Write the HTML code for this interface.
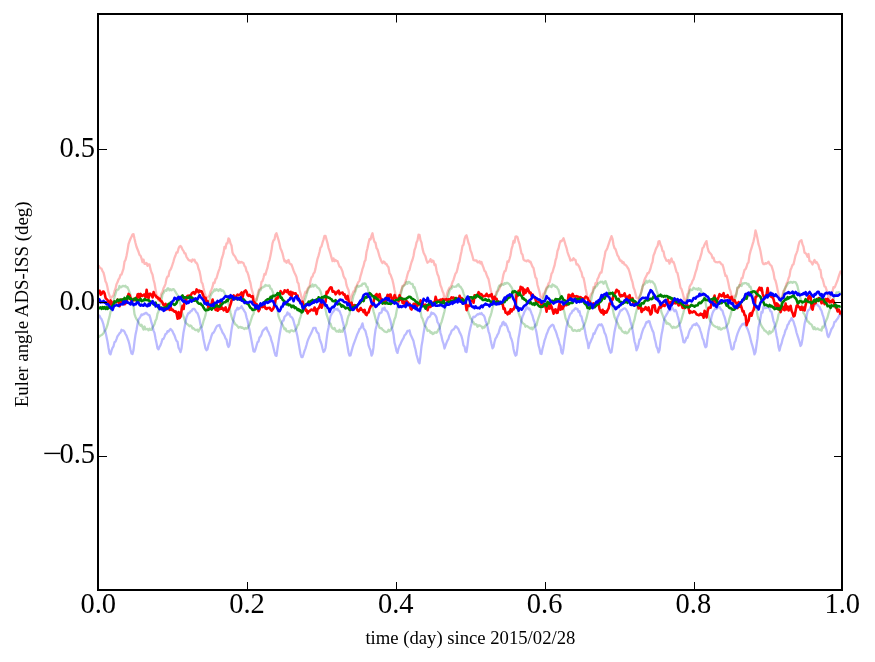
<!DOCTYPE html>
<html><head><meta charset="utf-8"><style>
html,body{margin:0;padding:0;background:#fff;}
svg{display:block;will-change:transform;}
</style></head><body>
<svg width="875" height="662" viewBox="0 0 875 662">
<rect width="875" height="662" fill="#fff"/>
<g fill="none" stroke-width="2.6" stroke-linejoin="round" stroke-linecap="butt">
<polyline points="98.5,265.4 99.5,267.3 100.5,268.2 101.5,268.6 102.5,271.2 103.5,272.6 104.5,276.6 105.5,281.4 106.5,283.2 107.5,287.5 108.5,292.7 109.5,295.5 110.5,298.4 111.5,297.6 112.5,296.3 113.5,295.2 114.5,291.2 115.5,288.7 116.5,284.2 117.5,282.3 118.5,279.5 119.5,278.1 120.5,274.9 121.5,274.7 122.5,271.6 123.5,268.7 124.5,261.6 125.5,260.0 126.5,255.9 127.5,250.6 128.5,244.2 129.5,241.3 130.5,238.8 131.5,236.7 132.5,234.6 133.5,234.1 134.5,238.8 135.5,243.0 136.5,246.7 137.5,249.2 138.5,251.7 139.5,254.9 140.5,255.6 141.5,258.4 142.5,262.2 143.5,259.6 144.5,263.8 145.5,263.8 146.5,262.9 147.5,265.8 148.5,264.5 149.5,264.4 150.5,269.2 151.5,272.5 152.5,274.5 153.5,279.7 154.5,283.2 155.5,289.1 156.5,294.9 157.5,296.2 158.5,300.6 159.5,298.6 160.5,297.1 161.5,293.4 162.5,291.8 163.5,288.2 164.5,286.4 165.5,283.8 166.5,278.8 167.5,276.6 168.5,276.2 169.5,271.1 170.5,269.7 171.5,267.5 172.5,264.5 173.5,261.3 174.5,257.8 175.5,255.5 176.5,252.4 177.5,252.5 178.5,248.5 179.5,246.5 180.5,246.0 181.5,247.3 182.5,249.6 183.5,250.9 184.5,253.3 185.5,253.5 186.5,256.9 187.5,258.3 188.5,259.9 189.5,260.5 190.5,260.3 191.5,261.7 192.5,259.5 193.5,260.3 194.5,259.6 195.5,262.5 196.5,262.7 197.5,264.6 198.5,268.7 199.5,271.1 200.5,275.9 201.5,282.3 202.5,283.4 203.5,288.1 204.5,292.3 205.5,295.4 206.5,298.1 207.5,297.4 208.5,296.5 209.5,295.3 210.5,291.6 211.5,289.7 212.5,286.9 213.5,282.6 214.5,283.1 215.5,279.1 216.5,278.3 217.5,274.7 218.5,271.4 219.5,268.8 220.5,265.2 221.5,259.3 222.5,256.5 223.5,253.1 224.5,246.8 225.5,248.4 226.5,243.3 227.5,243.4 228.5,238.3 229.5,239.4 230.5,243.5 231.5,245.5 232.5,252.6 233.5,254.8 234.5,255.8 235.5,257.3 236.5,259.9 237.5,260.6 238.5,263.1 239.5,261.8 240.5,262.5 241.5,261.9 242.5,262.6 243.5,263.0 244.5,266.0 245.5,267.1 246.5,271.1 247.5,272.5 248.5,275.7 249.5,279.8 250.5,283.1 251.5,288.9 252.5,292.0 253.5,295.8 254.5,300.0 255.5,299.4 256.5,300.0 257.5,295.2 258.5,291.1 259.5,288.9 260.5,288.5 261.5,281.9 262.5,281.1 263.5,277.8 264.5,273.8 265.5,274.5 266.5,270.7 267.5,267.9 268.5,262.6 269.5,260.1 270.5,255.4 271.5,250.3 272.5,243.3 273.5,240.3 274.5,239.5 275.5,234.6 276.5,233.2 277.5,236.6 278.5,239.9 279.5,243.8 280.5,248.4 281.5,250.5 282.5,253.3 283.5,257.6 284.5,261.3 285.5,260.7 286.5,262.8 287.5,261.1 288.5,259.9 289.5,263.4 290.5,264.1 291.5,264.6 292.5,267.3 293.5,270.4 294.5,272.8 295.5,274.8 296.5,277.1 297.5,282.3 298.5,283.4 299.5,290.2 300.5,293.4 301.5,297.2 302.5,301.2 303.5,298.6 304.5,294.3 305.5,291.7 306.5,292.5 307.5,289.1 308.5,287.3 309.5,286.8 310.5,280.9 311.5,277.4 312.5,276.6 313.5,273.5 314.5,272.5 315.5,268.6 316.5,263.4 317.5,258.8 318.5,255.9 319.5,252.0 320.5,247.5 321.5,246.4 322.5,242.7 323.5,239.6 324.5,235.8 325.5,235.8 326.5,239.5 327.5,243.1 328.5,247.8 329.5,250.7 330.5,253.9 331.5,257.6 332.5,261.1 333.5,258.4 334.5,261.2 335.5,260.0 336.5,260.9 337.5,261.2 338.5,263.9 339.5,266.6 340.5,267.1 341.5,269.1 342.5,271.5 343.5,276.0 344.5,278.0 345.5,279.4 346.5,285.1 347.5,288.0 348.5,290.0 349.5,296.9 350.5,300.7 351.5,297.3 352.5,293.9 353.5,291.4 354.5,291.4 355.5,287.4 356.5,286.3 357.5,283.7 358.5,281.9 359.5,280.6 360.5,276.1 361.5,272.9 362.5,268.8 363.5,266.2 364.5,261.7 365.5,260.1 366.5,252.0 367.5,248.2 368.5,243.3 369.5,239.1 370.5,239.6 371.5,235.8 372.5,233.3 373.5,238.6 374.5,242.0 375.5,242.7 376.5,248.0 377.5,249.4 378.5,252.8 379.5,256.4 380.5,259.0 381.5,261.7 382.5,263.1 383.5,261.5 384.5,262.0 385.5,264.0 386.5,263.9 387.5,266.0 388.5,267.3 389.5,273.3 390.5,274.6 391.5,277.3 392.5,280.2 393.5,284.6 394.5,289.9 395.5,294.1 396.5,296.6 397.5,299.7 398.5,299.4 399.5,295.0 400.5,292.8 401.5,289.7 402.5,285.9 403.5,285.8 404.5,284.0 405.5,281.7 406.5,278.6 407.5,274.5 408.5,271.4 409.5,270.1 410.5,265.8 411.5,262.3 412.5,259.8 413.5,256.0 414.5,250.0 415.5,247.4 416.5,242.5 417.5,240.4 418.5,234.7 419.5,234.8 420.5,240.1 421.5,242.7 422.5,248.6 423.5,252.4 424.5,254.6 425.5,256.6 426.5,260.4 427.5,262.7 428.5,261.6 429.5,261.4 430.5,259.1 431.5,262.0 432.5,260.5 433.5,261.0 434.5,265.1 435.5,264.4 436.5,270.3 437.5,274.2 438.5,276.3 439.5,280.8 440.5,285.4 441.5,287.8 442.5,291.2 443.5,293.3 444.5,299.5 445.5,298.7 446.5,296.0 447.5,292.1 448.5,289.8 449.5,287.7 450.5,287.4 451.5,285.2 452.5,282.1 453.5,279.9 454.5,276.7 455.5,273.5 456.5,272.5 457.5,268.9 458.5,264.0 459.5,261.6 460.5,255.9 461.5,251.4 462.5,245.9 463.5,244.9 464.5,239.2 465.5,236.3 466.5,235.3 467.5,239.0 468.5,243.0 469.5,245.3 470.5,250.4 471.5,252.8 472.5,256.3 473.5,260.2 474.5,260.3 475.5,260.5 476.5,260.4 477.5,262.3 478.5,262.4 479.5,261.1 480.5,263.5 481.5,262.0 482.5,265.3 483.5,267.6 484.5,270.9 485.5,271.7 486.5,274.5 487.5,277.1 488.5,279.0 489.5,283.9 490.5,289.1 491.5,293.0 492.5,298.9 493.5,298.8 494.5,297.5 495.5,295.9 496.5,291.7 497.5,291.3 498.5,290.2 499.5,288.5 500.5,285.4 501.5,284.0 502.5,279.5 503.5,274.3 504.5,271.4 505.5,270.9 506.5,267.4 507.5,261.3 508.5,261.9 509.5,259.0 510.5,255.3 511.5,249.1 512.5,245.8 513.5,240.9 514.5,242.5 515.5,236.6 516.5,236.4 517.5,237.2 518.5,241.1 519.5,244.1 520.5,248.7 521.5,253.4 522.5,254.5 523.5,259.5 524.5,260.6 525.5,260.6 526.5,261.3 527.5,260.4 528.5,260.4 529.5,262.0 530.5,261.6 531.5,264.3 532.5,266.8 533.5,268.0 534.5,272.9 535.5,277.4 536.5,278.5 537.5,285.0 538.5,288.4 539.5,291.8 540.5,296.7 541.5,297.0 542.5,297.8 543.5,293.7 544.5,293.4 545.5,290.3 546.5,287.6 547.5,286.6 548.5,283.4 549.5,282.5 550.5,278.4 551.5,273.7 552.5,272.3 553.5,268.7 554.5,265.7 555.5,260.4 556.5,257.3 557.5,251.0 558.5,248.5 559.5,243.9 560.5,241.0 561.5,241.3 562.5,240.0 563.5,238.2 564.5,241.3 565.5,244.9 566.5,247.8 567.5,252.1 568.5,255.0 569.5,257.4 570.5,260.6 571.5,259.8 572.5,260.2 573.5,258.3 574.5,259.6 575.5,259.9 576.5,264.5 577.5,264.2 578.5,265.6 579.5,267.4 580.5,270.5 581.5,272.3 582.5,276.9 583.5,277.8 584.5,282.4 585.5,288.3 586.5,292.7 587.5,298.6 588.5,301.7 589.5,298.8 590.5,295.4 591.5,293.6 592.5,292.5 593.5,287.2 594.5,287.9 595.5,283.2 596.5,283.8 597.5,279.0 598.5,277.4 599.5,274.4 600.5,272.4 601.5,272.5 602.5,267.1 603.5,261.5 604.5,257.0 605.5,251.3 606.5,249.9 607.5,247.7 608.5,244.7 609.5,241.7 610.5,238.8 611.5,236.1 612.5,238.8 613.5,244.7 614.5,248.2 615.5,249.1 616.5,252.2 617.5,255.3 618.5,256.7 619.5,259.3 620.5,261.0 621.5,260.6 622.5,263.0 623.5,262.1 624.5,264.5 625.5,264.9 626.5,265.8 627.5,267.5 628.5,269.0 629.5,272.0 630.5,275.6 631.5,279.5 632.5,282.2 633.5,287.5 634.5,289.9 635.5,293.7 636.5,297.6 637.5,298.1 638.5,298.6 639.5,296.7 640.5,294.6 641.5,291.1 642.5,287.6 643.5,283.2 644.5,279.8 645.5,277.6 646.5,275.8 647.5,273.1 648.5,273.3 649.5,271.2 650.5,268.5 651.5,264.4 652.5,262.1 653.5,255.4 654.5,253.3 655.5,250.0 656.5,247.7 657.5,246.2 658.5,241.6 659.5,241.1 660.5,244.7 661.5,246.8 662.5,251.1 663.5,251.3 664.5,256.5 665.5,258.5 666.5,260.7 667.5,261.0 668.5,260.0 669.5,263.7 670.5,260.5 671.5,258.5 672.5,262.1 673.5,261.9 674.5,264.7 675.5,268.4 676.5,271.9 677.5,273.0 678.5,277.8 679.5,282.6 680.5,287.7 681.5,289.0 682.5,292.3 683.5,296.2 684.5,300.8 685.5,301.2 686.5,298.7 687.5,294.1 688.5,292.8 689.5,287.1 690.5,284.9 691.5,283.8 692.5,280.8 693.5,279.3 694.5,276.2 695.5,272.3 696.5,269.7 697.5,265.2 698.5,260.9 699.5,260.3 700.5,256.6 701.5,253.4 702.5,248.1 703.5,247.3 704.5,244.8 705.5,242.8 706.5,241.1 707.5,247.3 708.5,251.0 709.5,252.5 710.5,253.6 711.5,254.7 712.5,258.0 713.5,257.6 714.5,261.1 715.5,262.0 716.5,262.1 717.5,262.3 718.5,262.1 719.5,261.9 720.5,262.9 721.5,264.4 722.5,264.6 723.5,267.9 724.5,272.1 725.5,275.9 726.5,275.7 727.5,279.3 728.5,283.8 729.5,288.8 730.5,291.1 731.5,296.0 732.5,297.1 733.5,298.1 734.5,295.8 735.5,296.2 736.5,293.1 737.5,287.8 738.5,287.8 739.5,285.7 740.5,283.0 741.5,278.4 742.5,277.9 743.5,273.7 744.5,270.0 745.5,269.2 746.5,267.0 747.5,263.5 748.5,262.4 749.5,255.3 750.5,251.2 751.5,248.2 752.5,244.6 753.5,241.3 754.5,236.8 755.5,230.4 756.5,234.1 757.5,238.8 758.5,244.1 759.5,247.0 760.5,251.2 761.5,257.0 762.5,262.4 763.5,264.2 764.5,264.2 765.5,263.1 766.5,263.6 767.5,262.9 768.5,261.6 769.5,263.9 770.5,265.1 771.5,265.9 772.5,269.2 773.5,272.3 774.5,278.7 775.5,280.6 776.5,284.5 777.5,289.4 778.5,294.1 779.5,298.5 780.5,301.1 781.5,297.7 782.5,295.4 783.5,290.8 784.5,290.5 785.5,287.3 786.5,283.7 787.5,282.0 788.5,278.5 789.5,276.1 790.5,269.9 791.5,267.7 792.5,265.0 793.5,264.3 794.5,260.0 795.5,255.5 796.5,253.1 797.5,250.3 798.5,245.3 799.5,241.8 800.5,240.8 801.5,240.2 802.5,244.4 803.5,246.7 804.5,252.6 805.5,253.1 806.5,254.4 807.5,256.7 808.5,254.0 809.5,261.2 810.5,261.3 811.5,262.6 812.5,264.5 813.5,261.9 814.5,260.0 815.5,262.7 816.5,261.9 817.5,263.6 818.5,265.2 819.5,269.2 820.5,269.9 821.5,277.3 822.5,278.9 823.5,282.4 824.5,286.5 825.5,286.8 826.5,289.9 827.5,293.3 828.5,297.5 829.5,298.6 830.5,295.8 831.5,292.0 832.5,291.6 833.5,287.1 834.5,287.6 835.5,285.4 836.5,282.9 837.5,280.5 838.5,277.2 839.5,274.1 840.5,271.4 841.5,271.6" stroke="#ff0000" stroke-opacity="0.27" stroke-width="2.3"/>
<polyline points="98.5,337.5 99.5,336.3 100.5,335.5 101.5,335.2 102.5,334.4 103.5,333.1 104.5,331.3 105.5,330.1 106.5,327.7 107.5,324.9 108.5,320.4 109.5,316.9 110.5,311.9 111.5,309.8 112.5,304.7 113.5,301.7 114.5,297.1 115.5,293.8 116.5,290.5 117.5,289.6 118.5,289.5 119.5,286.0 120.5,287.3 121.5,287.1 122.5,285.9 123.5,286.0 124.5,286.4 125.5,285.8 126.5,287.4 127.5,287.2 128.5,289.6 129.5,292.1 130.5,294.9 131.5,299.0 132.5,303.0 133.5,306.2 134.5,314.1 135.5,316.9 136.5,319.1 137.5,320.5 138.5,322.3 139.5,324.3 140.5,325.7 141.5,324.8 142.5,327.3 143.5,329.6 144.5,326.5 145.5,329.3 146.5,329.2 147.5,329.0 148.5,330.4 149.5,328.6 150.5,329.9 151.5,329.9 152.5,327.4 153.5,326.0 154.5,324.2 155.5,320.6 156.5,319.0 157.5,313.8 158.5,311.5 159.5,306.1 160.5,303.8 161.5,299.7 162.5,294.4 163.5,293.1 164.5,290.9 165.5,290.2 166.5,290.7 167.5,288.5 168.5,288.5 169.5,290.4 170.5,289.3 171.5,290.3 172.5,289.4 173.5,289.1 174.5,290.3 175.5,291.9 176.5,293.7 177.5,295.2 178.5,297.6 179.5,301.0 180.5,304.3 181.5,310.6 182.5,314.2 183.5,316.5 184.5,319.4 185.5,322.4 186.5,323.6 187.5,324.3 188.5,325.2 189.5,326.3 190.5,325.4 191.5,326.1 192.5,328.5 193.5,328.2 194.5,329.3 195.5,330.2 196.5,330.0 197.5,329.7 198.5,331.6 199.5,329.6 200.5,327.6 201.5,327.2 202.5,325.0 203.5,320.9 204.5,318.5 205.5,315.2 206.5,310.1 207.5,307.8 208.5,304.0 209.5,300.4 210.5,296.1 211.5,293.8 212.5,292.4 213.5,291.5 214.5,289.4 215.5,290.6 216.5,289.2 217.5,289.9 218.5,291.0 219.5,289.3 220.5,289.1 221.5,290.9 222.5,290.3 223.5,290.9 224.5,293.0 225.5,295.9 226.5,295.6 227.5,300.0 228.5,303.4 229.5,307.5 230.5,312.7 231.5,316.4 232.5,319.6 233.5,320.9 234.5,323.0 235.5,324.5 236.5,325.0 237.5,326.2 238.5,327.7 239.5,327.1 240.5,326.9 241.5,327.9 242.5,327.5 243.5,328.5 244.5,329.1 245.5,327.9 246.5,328.5 247.5,328.4 248.5,325.8 249.5,324.9 250.5,321.7 251.5,318.5 252.5,315.4 253.5,314.1 254.5,308.2 255.5,304.2 256.5,300.3 257.5,297.0 258.5,294.1 259.5,290.2 260.5,290.4 261.5,287.8 262.5,287.6 263.5,286.6 264.5,286.6 265.5,284.9 266.5,285.7 267.5,285.6 268.5,285.9 269.5,285.4 270.5,288.6 271.5,288.8 272.5,291.4 273.5,294.2 274.5,297.2 275.5,301.7 276.5,304.4 277.5,309.9 278.5,316.2 279.5,318.9 280.5,321.2 281.5,323.1 282.5,324.6 283.5,326.9 284.5,329.3 285.5,328.4 286.5,331.1 287.5,331.3 288.5,331.1 289.5,332.4 290.5,330.7 291.5,330.4 292.5,330.7 293.5,331.3 294.5,331.2 295.5,329.6 296.5,328.5 297.5,325.3 298.5,324.6 299.5,319.7 300.5,316.8 301.5,313.4 302.5,308.8 303.5,304.6 304.5,300.9 305.5,298.0 306.5,294.8 307.5,291.1 308.5,288.6 309.5,287.3 310.5,285.9 311.5,286.6 312.5,284.4 313.5,286.5 314.5,285.2 315.5,285.0 316.5,286.1 317.5,287.6 318.5,288.0 319.5,289.4 320.5,291.2 321.5,294.6 322.5,297.2 323.5,300.1 324.5,305.2 325.5,309.1 326.5,314.4 327.5,317.2 328.5,320.4 329.5,323.6 330.5,323.7 331.5,326.8 332.5,328.3 333.5,329.0 334.5,327.9 335.5,330.2 336.5,331.5 337.5,331.0 338.5,331.7 339.5,329.7 340.5,331.9 341.5,330.8 342.5,331.8 343.5,328.2 344.5,328.5 345.5,326.3 346.5,324.0 347.5,319.2 348.5,315.9 349.5,314.3 350.5,307.9 351.5,303.8 352.5,300.1 353.5,295.8 354.5,293.7 355.5,291.0 356.5,287.8 357.5,285.6 358.5,286.8 359.5,286.3 360.5,285.7 361.5,285.6 362.5,283.7 363.5,283.9 364.5,283.3 365.5,283.8 366.5,286.6 367.5,287.1 368.5,292.1 369.5,293.3 370.5,296.3 371.5,301.5 372.5,306.6 373.5,311.3 374.5,314.8 375.5,318.8 376.5,322.4 377.5,322.9 378.5,324.5 379.5,327.7 380.5,328.3 381.5,328.2 382.5,329.7 383.5,330.3 384.5,331.7 385.5,331.7 386.5,332.2 387.5,331.7 388.5,329.8 389.5,331.1 390.5,330.2 391.5,328.2 392.5,326.9 393.5,323.2 394.5,319.2 395.5,317.0 396.5,311.8 397.5,306.7 398.5,304.9 399.5,299.3 400.5,295.7 401.5,291.1 402.5,287.4 403.5,286.0 404.5,285.1 405.5,284.3 406.5,281.9 407.5,283.7 408.5,281.8 409.5,282.1 410.5,283.6 411.5,283.8 412.5,283.8 413.5,287.5 414.5,287.1 415.5,290.8 416.5,293.6 417.5,298.0 418.5,300.8 419.5,306.2 420.5,310.6 421.5,317.1 422.5,318.6 423.5,321.8 424.5,325.5 425.5,326.3 426.5,328.0 427.5,331.0 428.5,330.5 429.5,330.6 430.5,332.7 431.5,332.1 432.5,334.0 433.5,333.9 434.5,332.5 435.5,332.3 436.5,332.8 437.5,331.5 438.5,329.2 439.5,328.8 440.5,324.5 441.5,322.1 442.5,318.6 443.5,315.0 444.5,311.3 445.5,306.0 446.5,303.2 447.5,298.7 448.5,294.6 449.5,290.3 450.5,288.9 451.5,288.6 452.5,286.2 453.5,286.6 454.5,286.9 455.5,286.5 456.5,286.5 457.5,284.7 458.5,284.2 459.5,286.5 460.5,286.7 461.5,288.3 462.5,289.9 463.5,293.3 464.5,295.9 465.5,299.6 466.5,303.3 467.5,308.2 468.5,313.0 469.5,315.4 470.5,318.4 471.5,319.1 472.5,322.2 473.5,322.2 474.5,324.4 475.5,324.1 476.5,324.5 477.5,326.8 478.5,325.5 479.5,325.3 480.5,326.0 481.5,326.3 482.5,328.3 483.5,326.9 484.5,327.5 485.5,325.3 486.5,325.0 487.5,323.9 488.5,323.2 489.5,318.2 490.5,315.9 491.5,312.5 492.5,308.0 493.5,305.0 494.5,301.0 495.5,295.7 496.5,294.5 497.5,291.1 498.5,287.3 499.5,285.4 500.5,286.3 501.5,284.3 502.5,284.7 503.5,284.8 504.5,283.1 505.5,283.9 506.5,282.9 507.5,283.0 508.5,283.6 509.5,284.4 510.5,286.1 511.5,287.3 512.5,289.5 513.5,291.8 514.5,295.6 515.5,298.4 516.5,302.8 517.5,308.6 518.5,312.7 519.5,315.7 520.5,318.0 521.5,321.6 522.5,322.8 523.5,323.7 524.5,324.3 525.5,326.7 526.5,325.9 527.5,326.3 528.5,327.3 529.5,327.6 530.5,328.6 531.5,327.6 532.5,329.4 533.5,327.3 534.5,327.2 535.5,324.5 536.5,325.3 537.5,321.0 538.5,317.8 539.5,315.2 540.5,311.8 541.5,306.1 542.5,302.7 543.5,298.1 544.5,295.7 545.5,291.9 546.5,289.1 547.5,287.6 548.5,286.6 549.5,285.7 550.5,286.5 551.5,287.1 552.5,284.4 553.5,285.6 554.5,285.3 555.5,286.9 556.5,286.7 557.5,288.3 558.5,289.8 559.5,293.8 560.5,296.0 561.5,299.7 562.5,304.2 563.5,308.5 564.5,312.8 565.5,318.0 566.5,320.4 567.5,322.5 568.5,325.0 569.5,326.8 570.5,326.7 571.5,327.8 572.5,330.3 573.5,330.9 574.5,330.0 575.5,330.4 576.5,331.0 577.5,330.9 578.5,329.9 579.5,330.9 580.5,329.8 581.5,328.8 582.5,328.8 583.5,326.0 584.5,324.5 585.5,321.5 586.5,318.2 587.5,313.8 588.5,310.1 589.5,305.4 590.5,303.2 591.5,298.4 592.5,293.4 593.5,290.5 594.5,288.3 595.5,286.7 596.5,286.2 597.5,284.9 598.5,283.0 599.5,282.9 600.5,281.6 601.5,282.2 602.5,281.7 603.5,283.8 604.5,282.3 605.5,281.1 606.5,283.8 607.5,287.3 608.5,289.2 609.5,292.9 610.5,297.5 611.5,302.2 612.5,307.5 613.5,312.7 614.5,317.0 615.5,319.1 616.5,321.6 617.5,322.9 618.5,325.4 619.5,328.3 620.5,327.7 621.5,330.0 622.5,331.7 623.5,332.0 624.5,333.1 625.5,331.8 626.5,333.4 627.5,332.9 628.5,332.0 629.5,329.8 630.5,328.6 631.5,328.4 632.5,327.2 633.5,322.6 634.5,319.7 635.5,314.6 636.5,310.9 637.5,306.7 638.5,302.7 639.5,297.1 640.5,295.1 641.5,291.5 642.5,286.6 643.5,284.8 644.5,284.4 645.5,282.6 646.5,280.8 647.5,282.6 648.5,281.5 649.5,280.5 650.5,282.2 651.5,281.4 652.5,281.7 653.5,283.2 654.5,284.1 655.5,286.9 656.5,290.4 657.5,293.1 658.5,297.1 659.5,302.9 660.5,307.8 661.5,312.4 662.5,314.9 663.5,317.6 664.5,320.0 665.5,320.6 666.5,323.7 667.5,322.7 668.5,324.0 669.5,323.9 670.5,325.4 671.5,326.8 672.5,328.0 673.5,326.7 674.5,327.5 675.5,327.5 676.5,327.4 677.5,326.2 678.5,326.0 679.5,323.4 680.5,322.6 681.5,319.4 682.5,315.7 683.5,312.2 684.5,308.1 685.5,306.7 686.5,300.5 687.5,299.3 688.5,295.2 689.5,291.2 690.5,289.5 691.5,290.1 692.5,289.8 693.5,287.8 694.5,288.2 695.5,289.2 696.5,288.7 697.5,289.8 698.5,288.1 699.5,289.6 700.5,288.9 701.5,292.6 702.5,292.8 703.5,294.1 704.5,298.7 705.5,302.4 706.5,307.8 707.5,311.1 708.5,316.0 709.5,318.8 710.5,321.9 711.5,322.3 712.5,324.5 713.5,325.4 714.5,326.0 715.5,326.7 716.5,327.2 717.5,326.9 718.5,329.0 719.5,327.5 720.5,329.5 721.5,329.3 722.5,328.5 723.5,327.9 724.5,328.3 725.5,327.5 726.5,326.3 727.5,324.5 728.5,322.8 729.5,318.3 730.5,315.5 731.5,310.9 732.5,308.7 733.5,304.3 734.5,300.0 735.5,297.5 736.5,293.6 737.5,287.5 738.5,287.4 739.5,285.0 740.5,285.6 741.5,286.0 742.5,283.5 743.5,283.6 744.5,283.1 745.5,283.2 746.5,283.2 747.5,284.6 748.5,283.9 749.5,286.9 750.5,286.6 751.5,290.3 752.5,293.6 753.5,296.5 754.5,299.3 755.5,303.4 756.5,309.3 757.5,315.2 758.5,319.1 759.5,320.2 760.5,323.7 761.5,325.7 762.5,327.6 763.5,328.8 764.5,330.6 765.5,330.7 766.5,332.0 767.5,332.7 768.5,334.2 769.5,331.2 770.5,333.3 771.5,331.9 772.5,331.6 773.5,329.3 774.5,326.9 775.5,326.2 776.5,322.6 777.5,319.7 778.5,314.4 779.5,312.4 780.5,307.1 781.5,302.3 782.5,297.6 783.5,293.6 784.5,289.3 785.5,287.2 786.5,286.0 787.5,284.2 788.5,282.6 789.5,282.9 790.5,281.9 791.5,282.2 792.5,282.9 793.5,281.9 794.5,282.2 795.5,282.2 796.5,283.8 797.5,286.3 798.5,290.9 799.5,293.3 800.5,298.0 801.5,301.9 802.5,307.5 803.5,313.2 804.5,314.2 805.5,317.0 806.5,318.7 807.5,321.6 808.5,321.7 809.5,323.3 810.5,323.9 811.5,324.6 812.5,326.8 813.5,329.1 814.5,327.2 815.5,329.3 816.5,329.1 817.5,328.4 818.5,329.4 819.5,329.8 820.5,329.6 821.5,330.6 822.5,326.7 823.5,327.5 824.5,325.5 825.5,322.0 826.5,319.7 827.5,317.5 828.5,313.6 829.5,310.5 830.5,307.4 831.5,302.1 832.5,301.7 833.5,299.4 834.5,295.9 835.5,295.1 836.5,292.4 837.5,292.6 838.5,292.2 839.5,292.5 840.5,293.7 841.5,292.3" stroke="#008000" stroke-opacity="0.27" stroke-width="2.3"/>
<polyline points="98.5,316.0 99.5,315.7 100.5,317.9 101.5,319.1 102.5,321.5 103.5,324.7 104.5,329.9 105.5,331.9 106.5,336.7 107.5,341.5 108.5,347.8 109.5,353.3 110.5,354.4 111.5,350.7 112.5,347.9 113.5,346.3 114.5,342.3 115.5,341.6 116.5,339.1 117.5,336.2 118.5,335.0 119.5,333.3 120.5,332.6 121.5,329.8 122.5,330.6 123.5,330.3 124.5,331.7 125.5,334.0 126.5,335.7 127.5,338.3 128.5,341.0 129.5,344.7 130.5,349.8 131.5,353.5 132.5,354.0 133.5,350.1 134.5,341.6 135.5,334.7 136.5,330.0 137.5,324.1 138.5,319.4 139.5,318.2 140.5,316.5 141.5,314.5 142.5,315.0 143.5,313.9 144.5,314.2 145.5,312.8 146.5,313.0 147.5,314.2 148.5,314.9 149.5,315.4 150.5,318.7 151.5,322.7 152.5,325.7 153.5,330.6 154.5,332.9 155.5,338.4 156.5,343.0 157.5,348.2 158.5,349.4 159.5,346.8 160.5,345.1 161.5,342.3 162.5,339.2 163.5,338.9 164.5,336.6 165.5,334.0 166.5,333.7 167.5,331.1 168.5,331.6 169.5,330.1 170.5,328.9 171.5,330.0 172.5,331.3 173.5,333.6 174.5,335.3 175.5,338.3 176.5,340.9 177.5,341.6 178.5,347.6 179.5,349.3 180.5,352.2 181.5,348.5 182.5,340.4 183.5,332.5 184.5,327.5 185.5,322.5 186.5,317.2 187.5,314.9 188.5,313.0 189.5,313.0 190.5,311.2 191.5,311.1 192.5,309.4 193.5,308.9 194.5,309.0 195.5,310.7 196.5,312.3 197.5,313.1 198.5,315.9 199.5,319.3 200.5,324.6 201.5,327.9 202.5,332.8 203.5,339.0 204.5,343.8 205.5,348.5 206.5,350.2 207.5,349.3 208.5,344.8 209.5,342.2 210.5,339.1 211.5,335.7 212.5,333.3 213.5,332.7 214.5,331.0 215.5,328.8 216.5,326.7 217.5,325.6 218.5,325.5 219.5,324.9 220.5,328.2 221.5,329.8 222.5,332.5 223.5,333.9 224.5,335.7 225.5,338.4 226.5,339.5 227.5,344.8 228.5,347.0 229.5,344.9 230.5,337.3 231.5,329.9 232.5,324.2 233.5,319.6 234.5,315.3 235.5,310.9 236.5,309.9 237.5,307.7 238.5,309.2 239.5,308.3 240.5,307.7 241.5,306.3 242.5,308.3 243.5,309.6 244.5,311.4 245.5,312.9 246.5,317.3 247.5,320.5 248.5,325.3 249.5,330.1 250.5,335.0 251.5,340.4 252.5,345.7 253.5,351.4 254.5,351.7 255.5,349.2 256.5,345.7 257.5,342.2 258.5,341.5 259.5,337.5 260.5,336.4 261.5,334.5 262.5,331.2 263.5,330.0 264.5,329.2 265.5,328.1 266.5,327.5 267.5,330.7 268.5,332.1 269.5,334.7 270.5,336.7 271.5,340.9 272.5,343.7 273.5,347.9 274.5,352.1 275.5,355.5 276.5,355.9 277.5,348.7 278.5,342.2 279.5,335.5 280.5,330.0 281.5,324.6 282.5,320.8 283.5,320.6 284.5,316.9 285.5,315.8 286.5,315.0 287.5,312.4 288.5,314.4 289.5,313.8 290.5,316.7 291.5,317.0 292.5,318.2 293.5,320.7 294.5,324.7 295.5,328.0 296.5,332.2 297.5,336.5 298.5,342.5 299.5,348.4 300.5,354.0 301.5,357.2 302.5,357.0 303.5,354.3 304.5,350.9 305.5,348.3 306.5,345.0 307.5,341.3 308.5,338.7 309.5,336.6 310.5,334.6 311.5,332.4 312.5,330.1 313.5,327.8 314.5,327.8 315.5,327.9 316.5,331.1 317.5,332.7 318.5,333.4 319.5,338.3 320.5,341.5 321.5,344.1 322.5,348.5 323.5,352.0 324.5,351.0 325.5,348.0 326.5,340.1 327.5,332.5 328.5,327.7 329.5,321.4 330.5,316.3 331.5,314.2 332.5,312.6 333.5,311.5 334.5,309.6 335.5,309.1 336.5,309.5 337.5,308.7 338.5,310.6 339.5,310.8 340.5,313.6 341.5,316.2 342.5,320.8 343.5,324.5 344.5,330.0 345.5,334.9 346.5,340.6 347.5,346.2 348.5,352.3 349.5,355.6 350.5,355.4 351.5,351.4 352.5,347.7 353.5,344.5 354.5,341.8 355.5,339.2 356.5,336.3 357.5,333.7 358.5,331.8 359.5,329.0 360.5,328.4 361.5,326.0 362.5,323.4 363.5,328.1 364.5,329.6 365.5,331.2 366.5,335.3 367.5,338.8 368.5,345.0 369.5,347.8 370.5,350.4 371.5,355.6 372.5,353.7 373.5,347.4 374.5,337.2 375.5,329.8 376.5,326.0 377.5,320.2 378.5,316.5 379.5,313.1 380.5,313.0 381.5,312.5 382.5,308.5 383.5,309.6 384.5,307.6 385.5,310.6 386.5,310.7 387.5,311.9 388.5,314.5 389.5,317.8 390.5,320.9 391.5,325.7 392.5,330.0 393.5,334.4 394.5,342.6 395.5,346.3 396.5,351.0 397.5,352.9 398.5,348.6 399.5,345.9 400.5,344.0 401.5,341.6 402.5,339.7 403.5,338.2 404.5,335.4 405.5,334.5 406.5,333.0 407.5,330.8 408.5,331.1 409.5,330.3 410.5,334.4 411.5,336.5 412.5,338.7 413.5,341.0 414.5,346.1 415.5,349.5 416.5,354.7 417.5,358.3 418.5,361.9 419.5,363.3 420.5,355.6 421.5,346.3 422.5,340.6 423.5,333.7 424.5,327.8 425.5,323.8 426.5,320.8 427.5,318.7 428.5,317.1 429.5,316.8 430.5,315.3 431.5,312.5 432.5,313.7 433.5,313.2 434.5,314.3 435.5,315.4 436.5,317.6 437.5,322.2 438.5,323.6 439.5,326.7 440.5,333.0 441.5,336.2 442.5,340.9 443.5,343.6 444.5,348.5 445.5,345.6 446.5,342.9 447.5,340.5 448.5,338.8 449.5,335.3 450.5,333.8 451.5,331.1 452.5,329.9 453.5,329.5 454.5,328.1 455.5,326.2 456.5,326.8 457.5,328.0 458.5,329.3 459.5,332.1 460.5,333.9 461.5,336.3 462.5,340.0 463.5,345.5 464.5,346.6 465.5,351.4 466.5,352.0 467.5,345.3 468.5,337.2 469.5,331.7 470.5,327.6 471.5,323.7 472.5,318.3 473.5,316.7 474.5,317.2 475.5,316.2 476.5,315.3 477.5,314.2 478.5,314.5 479.5,313.4 480.5,314.0 481.5,313.0 482.5,314.7 483.5,315.2 484.5,316.8 485.5,320.6 486.5,323.3 487.5,326.6 488.5,331.3 489.5,334.1 490.5,339.4 491.5,344.1 492.5,348.3 493.5,346.9 494.5,342.0 495.5,338.7 496.5,337.2 497.5,334.7 498.5,333.3 499.5,329.6 500.5,326.5 501.5,325.8 502.5,322.7 503.5,321.8 504.5,325.0 505.5,323.5 506.5,325.5 507.5,327.8 508.5,331.2 509.5,332.5 510.5,337.0 511.5,339.2 512.5,342.8 513.5,348.9 514.5,353.0 515.5,355.7 516.5,354.9 517.5,347.3 518.5,338.2 519.5,333.1 520.5,326.4 521.5,320.4 522.5,316.4 523.5,314.5 524.5,311.7 525.5,310.1 526.5,307.0 527.5,307.6 528.5,309.2 529.5,308.5 530.5,310.7 531.5,313.4 532.5,315.7 533.5,319.7 534.5,322.2 535.5,328.2 536.5,332.6 537.5,338.5 538.5,345.1 539.5,348.7 540.5,353.7 541.5,354.0 542.5,348.7 543.5,345.1 544.5,340.7 545.5,337.9 546.5,334.5 547.5,332.2 548.5,329.5 549.5,327.5 550.5,326.4 551.5,325.4 552.5,324.7 553.5,325.4 554.5,328.8 555.5,330.6 556.5,333.4 557.5,336.9 558.5,339.5 559.5,343.8 560.5,346.0 561.5,352.6 562.5,353.7 563.5,348.2 564.5,340.1 565.5,333.9 566.5,326.9 567.5,322.7 568.5,318.8 569.5,315.8 570.5,313.7 571.5,313.1 572.5,310.6 573.5,310.7 574.5,309.2 575.5,308.1 576.5,309.1 577.5,308.9 578.5,312.0 579.5,311.1 580.5,315.7 581.5,316.5 582.5,320.9 583.5,323.6 584.5,328.0 585.5,333.7 586.5,338.7 587.5,341.9 588.5,348.2 589.5,344.0 590.5,342.0 591.5,339.5 592.5,337.5 593.5,333.4 594.5,333.8 595.5,331.1 596.5,328.9 597.5,326.9 598.5,325.0 599.5,324.5 600.5,325.3 601.5,324.3 602.5,326.1 603.5,328.8 604.5,332.7 605.5,334.3 606.5,337.9 607.5,343.1 608.5,346.2 609.5,349.9 610.5,352.7 611.5,352.1 612.5,345.5 613.5,338.4 614.5,331.7 615.5,326.9 616.5,321.9 617.5,317.1 618.5,315.3 619.5,312.7 620.5,310.3 621.5,310.6 622.5,309.4 623.5,308.7 624.5,308.3 625.5,308.8 626.5,310.1 627.5,312.1 628.5,314.5 629.5,317.4 630.5,321.7 631.5,325.2 632.5,329.5 633.5,335.2 634.5,341.5 635.5,344.7 636.5,350.3 637.5,348.1 638.5,344.7 639.5,339.6 640.5,338.7 641.5,334.3 642.5,331.1 643.5,328.4 644.5,326.9 645.5,324.3 646.5,322.0 647.5,322.4 648.5,321.0 649.5,321.4 650.5,325.3 651.5,327.8 652.5,330.6 653.5,332.5 654.5,338.1 655.5,341.7 656.5,346.7 657.5,348.6 658.5,352.4 659.5,350.3 660.5,341.7 661.5,334.8 662.5,330.1 663.5,323.7 664.5,318.4 665.5,316.3 666.5,314.7 667.5,313.0 668.5,310.6 669.5,310.3 670.5,310.3 671.5,308.1 672.5,308.0 673.5,309.9 674.5,311.2 675.5,309.9 676.5,311.7 677.5,315.5 678.5,318.9 679.5,323.8 680.5,328.8 681.5,332.7 682.5,336.9 683.5,342.2 684.5,342.5 685.5,340.6 686.5,337.6 687.5,337.8 688.5,334.3 689.5,330.9 690.5,328.8 691.5,327.9 692.5,325.6 693.5,325.0 694.5,324.3 695.5,325.0 696.5,323.3 697.5,324.7 698.5,325.9 699.5,327.7 700.5,331.0 701.5,334.0 702.5,338.2 703.5,340.1 704.5,344.7 705.5,347.3 706.5,346.4 707.5,337.8 708.5,331.3 709.5,326.7 710.5,322.5 711.5,316.9 712.5,313.3 713.5,311.0 714.5,309.7 715.5,308.3 716.5,308.9 717.5,307.9 718.5,306.9 719.5,306.8 720.5,308.7 721.5,310.0 722.5,310.7 723.5,314.4 724.5,316.9 725.5,320.4 726.5,325.2 727.5,329.8 728.5,334.1 729.5,339.6 730.5,343.6 731.5,348.9 732.5,349.5 733.5,348.5 734.5,342.6 735.5,341.0 736.5,336.8 737.5,333.6 738.5,331.1 739.5,328.8 740.5,326.7 741.5,325.5 742.5,323.9 743.5,324.4 744.5,323.3 745.5,324.9 746.5,326.9 747.5,328.9 748.5,331.6 749.5,334.8 750.5,338.9 751.5,342.9 752.5,346.1 753.5,349.9 754.5,354.4 755.5,352.0 756.5,345.1 757.5,338.2 758.5,327.5 759.5,323.0 760.5,318.1 761.5,311.8 762.5,312.6 763.5,306.4 764.5,308.1 765.5,308.1 766.5,307.6 767.5,306.6 768.5,307.9 769.5,308.5 770.5,311.3 771.5,311.7 772.5,316.3 773.5,321.1 774.5,323.6 775.5,329.6 776.5,335.4 777.5,339.7 778.5,347.0 779.5,350.6 780.5,346.3 781.5,343.7 782.5,339.5 783.5,336.5 784.5,333.8 785.5,330.1 786.5,328.8 787.5,325.1 788.5,324.0 789.5,321.3 790.5,320.5 791.5,318.1 792.5,319.8 793.5,321.5 794.5,324.9 795.5,328.0 796.5,332.5 797.5,335.6 798.5,338.6 799.5,342.1 800.5,346.0 801.5,344.3 802.5,338.7 803.5,331.5 804.5,324.3 805.5,319.9 806.5,316.9 807.5,311.6 808.5,309.9 809.5,309.6 810.5,307.1 811.5,306.6 812.5,305.9 813.5,304.2 814.5,305.5 815.5,303.4 816.5,304.3 817.5,304.6 818.5,306.1 819.5,306.8 820.5,309.3 821.5,310.6 822.5,314.4 823.5,317.1 824.5,322.3 825.5,326.2 826.5,329.8 827.5,335.4 828.5,337.1 829.5,334.6 830.5,331.8 831.5,329.0 832.5,327.7 833.5,325.7 834.5,321.8 835.5,321.7 836.5,319.9 837.5,318.8 838.5,317.1 839.5,314.8 840.5,314.2 841.5,315.8" stroke="#0000ff" stroke-opacity="0.27" stroke-width="2.3"/>
<polyline points="98.6,293.8 99.6,290.8 100.6,294.7 101.6,294.0 102.6,291.8 103.6,291.5 104.6,293.4 105.6,298.1 106.6,299.1 107.6,300.2 108.6,302.7 109.6,304.4 110.6,300.4 111.6,305.0 112.6,303.6 113.6,301.8 114.6,302.1 115.6,302.2 116.6,301.9 117.6,299.6 118.6,301.5 119.6,306.2 120.6,300.5 121.6,299.6 122.6,303.5 123.6,304.3 124.6,304.3 125.6,301.5 126.6,303.0 127.6,297.0 128.6,293.9 129.6,295.1 130.6,298.3 131.6,301.2 132.6,300.6 133.6,298.9 134.6,300.2 135.6,298.1 136.6,299.2 137.6,294.5 138.6,294.0 139.6,298.2 140.6,293.9 141.6,295.8 142.6,295.9 143.6,294.8 144.6,294.5 145.6,297.6 146.6,289.8 147.6,295.9 148.6,298.3 149.6,293.9 150.6,293.9 151.6,295.3 152.6,297.4 153.6,292.1 154.6,295.2 155.6,295.4 156.6,297.5 157.6,297.4 158.6,299.1 159.6,298.5 160.6,301.0 161.6,301.3 162.6,302.9 163.6,305.1 164.6,305.5 165.6,303.9 166.6,309.5 167.6,306.6 168.6,304.7 169.6,310.0 170.6,307.0 171.6,309.9 172.6,309.5 173.6,311.0 174.6,311.8 175.6,311.4 176.6,313.6 177.6,318.7 178.6,312.1 179.6,318.1 180.6,316.6 181.6,310.1 182.6,305.8 183.6,309.0 184.6,300.8 185.6,302.0 186.6,297.3 187.6,295.8 188.6,295.8 189.6,295.5 190.6,295.8 191.6,293.7 192.6,292.6 193.6,292.1 194.6,293.8 195.6,292.7 196.6,289.4 197.6,290.3 198.6,292.3 199.6,290.7 200.6,291.4 201.6,291.3 202.6,293.8 203.6,296.2 204.6,298.4 205.6,297.8 206.6,303.4 207.6,301.0 208.6,308.9 209.6,305.4 210.6,304.9 211.6,303.5 212.6,299.6 213.6,305.2 214.6,306.3 215.6,310.0 216.6,304.1 217.6,310.8 218.6,307.0 219.6,309.3 220.6,303.4 221.6,308.8 222.6,308.1 223.6,310.3 224.6,309.4 225.6,307.4 226.6,311.7 227.6,311.6 228.6,309.8 229.6,307.1 230.6,304.2 231.6,300.7 232.6,296.8 233.6,295.4 234.6,299.2 235.6,297.3 236.6,295.8 237.6,294.5 238.6,295.1 239.6,294.8 240.6,293.8 241.6,292.5 242.6,297.2 243.6,292.9 244.6,291.2 245.6,290.4 246.6,292.0 247.6,295.2 248.6,295.8 249.6,294.9 250.6,296.4 251.6,296.7 252.6,296.2 253.6,302.1 254.6,302.3 255.6,308.3 256.6,304.1 257.6,307.2 258.6,311.2 259.6,309.3 260.6,306.2 261.6,306.1 262.6,307.1 263.6,306.6 264.6,306.1 265.6,308.6 266.6,308.9 267.6,308.1 268.6,307.9 269.6,307.7 270.6,309.6 271.6,310.7 272.6,309.4 273.6,308.0 274.6,304.2 275.6,299.8 276.6,297.9 277.6,298.3 278.6,294.8 279.6,294.0 280.6,291.2 281.6,292.8 282.6,293.8 283.6,293.2 284.6,290.3 285.6,291.2 286.6,291.9 287.6,290.0 288.6,293.1 289.6,294.4 290.6,291.8 291.6,296.7 292.6,292.6 293.6,293.2 294.6,293.6 295.6,293.3 296.6,295.9 297.6,295.6 298.6,300.5 299.6,300.3 300.6,302.0 301.6,302.3 302.6,301.7 303.6,305.6 304.6,305.7 305.6,310.6 306.6,310.2 307.6,313.3 308.6,311.3 309.6,311.3 310.6,309.9 311.6,309.6 312.6,310.2 313.6,310.5 314.6,307.5 315.6,309.9 316.6,314.1 317.6,309.1 318.6,308.3 319.6,306.4 320.6,303.8 321.6,307.8 322.6,304.5 323.6,303.9 324.6,304.0 325.6,301.8 326.6,291.8 327.6,292.6 328.6,290.4 329.6,288.6 330.6,287.4 331.6,287.5 332.6,291.8 333.6,291.2 334.6,291.9 335.6,294.3 336.6,293.0 337.6,291.5 338.6,290.6 339.6,294.2 340.6,293.0 341.6,292.9 342.6,292.6 343.6,294.7 344.6,294.4 345.6,297.8 346.6,299.1 347.6,295.9 348.6,300.9 349.6,303.3 350.6,303.6 351.6,302.7 352.6,308.2 353.6,305.7 354.6,305.1 355.6,305.8 356.6,308.2 357.6,310.5 358.6,311.2 359.6,309.9 360.6,308.0 361.6,309.8 362.6,310.1 363.6,312.2 364.6,309.9 365.6,314.2 366.6,315.1 367.6,312.5 368.6,312.5 369.6,308.7 370.6,306.6 371.6,305.2 372.6,305.3 373.6,301.9 374.6,295.8 375.6,296.7 376.6,294.0 377.6,297.6 378.6,295.7 379.6,294.1 380.6,298.8 381.6,299.0 382.6,301.9 383.6,302.4 384.6,303.3 385.6,300.3 386.6,297.9 387.6,294.9 388.6,298.0 389.6,294.8 390.6,294.6 391.6,298.8 392.6,299.8 393.6,298.4 394.6,295.1 395.6,297.9 396.6,299.9 397.6,298.5 398.6,301.2 399.6,295.4 400.6,299.7 401.6,298.2 402.6,302.9 403.6,301.2 404.6,304.3 405.6,301.8 406.6,301.0 407.6,302.2 408.6,303.8 409.6,303.7 410.6,308.6 411.6,309.5 412.6,306.9 413.6,303.8 414.6,305.0 415.6,303.3 416.6,306.8 417.6,304.3 418.6,304.8 419.6,303.3 420.6,300.4 421.6,303.0 422.6,302.5 423.6,305.8 424.6,305.8 425.6,304.7 426.6,306.0 427.6,310.3 428.6,306.1 429.6,306.8 430.6,306.9 431.6,304.1 432.6,302.7 433.6,302.6 434.6,303.4 435.6,296.9 436.6,300.4 437.6,300.6 438.6,300.5 439.6,300.2 440.6,299.7 441.6,302.1 442.6,299.1 443.6,299.6 444.6,299.6 445.6,299.7 446.6,299.1 447.6,301.2 448.6,299.2 449.6,299.4 450.6,298.9 451.6,297.3 452.6,297.8 453.6,297.5 454.6,300.0 455.6,298.5 456.6,298.0 457.6,300.4 458.6,300.5 459.6,295.7 460.6,301.7 461.6,298.1 462.6,298.9 463.6,302.8 464.6,302.6 465.6,303.0 466.6,310.1 467.6,305.6 468.6,305.7 469.6,305.9 470.6,300.6 471.6,300.7 472.6,300.2 473.6,302.7 474.6,295.2 475.6,295.5 476.6,296.4 477.6,294.9 478.6,292.1 479.6,294.8 480.6,293.8 481.6,294.3 482.6,296.1 483.6,296.4 484.6,295.7 485.6,296.0 486.6,293.8 487.6,295.8 488.6,296.4 489.6,295.1 490.6,296.0 491.6,294.1 492.6,298.7 493.6,300.7 494.6,296.8 495.6,299.1 496.6,298.8 497.6,302.5 498.6,301.8 499.6,302.0 500.6,302.3 501.6,303.8 502.6,303.7 503.6,308.9 504.6,308.3 505.6,312.7 506.6,312.8 507.6,314.3 508.6,311.9 509.6,313.5 510.6,309.2 511.6,311.5 512.6,309.2 513.6,309.4 514.6,306.7 515.6,304.0 516.6,294.0 517.6,295.8 518.6,290.8 519.6,294.4 520.6,286.8 521.6,288.4 522.6,287.7 523.6,294.6 524.6,289.6 525.6,292.9 526.6,291.2 527.6,288.3 528.6,290.6 529.6,293.0 530.6,292.5 531.6,295.8 532.6,294.6 533.6,296.5 534.6,297.0 535.6,299.6 536.6,303.8 537.6,301.8 538.6,302.3 539.6,301.4 540.6,301.9 541.6,306.9 542.6,302.9 543.6,304.1 544.6,306.6 545.6,306.8 546.6,311.7 547.6,303.2 548.6,308.2 549.6,308.6 550.6,304.9 551.6,306.9 552.6,310.2 553.6,313.7 554.6,310.1 555.6,309.3 556.6,312.9 557.6,312.7 558.6,308.0 559.6,303.2 560.6,309.7 561.6,306.4 562.6,308.8 563.6,306.4 564.6,305.3 565.6,303.4 566.6,305.2 567.6,303.3 568.6,294.7 569.6,295.2 570.6,299.5 571.6,295.6 572.6,293.8 573.6,296.5 574.6,296.4 575.6,296.5 576.6,296.1 577.6,296.8 578.6,296.9 579.6,298.8 580.6,297.1 581.6,298.4 582.6,298.2 583.6,300.4 584.6,298.1 585.6,296.6 586.6,297.3 587.6,297.8 588.6,300.8 589.6,301.3 590.6,305.4 591.6,306.2 592.6,303.8 593.6,303.3 594.6,306.0 595.6,305.6 596.6,305.1 597.6,303.6 598.6,304.1 599.6,309.4 600.6,311.4 601.6,312.6 602.6,309.8 603.6,314.5 604.6,311.3 605.6,312.8 606.6,312.6 607.6,310.1 608.6,308.4 609.6,303.6 610.6,303.8 611.6,299.1 612.6,299.6 613.6,295.2 614.6,293.7 615.6,292.2 616.6,289.8 617.6,291.2 618.6,291.1 619.6,295.0 620.6,296.5 621.6,295.1 622.6,296.0 623.6,295.1 624.6,293.4 625.6,296.7 626.6,299.4 627.6,296.6 628.6,297.7 629.6,295.1 630.6,300.1 631.6,300.5 632.6,298.2 633.6,303.7 634.6,305.1 635.6,303.3 636.6,304.8 637.6,304.5 638.6,308.5 639.6,304.6 640.6,307.3 641.6,312.0 642.6,308.8 643.6,310.0 644.6,309.0 645.6,307.1 646.6,309.2 647.6,310.1 648.6,307.4 649.6,311.3 650.6,314.5 651.6,313.2 652.6,305.7 653.6,305.4 654.6,305.2 655.6,311.3 656.6,311.5 657.6,312.6 658.6,308.9 659.6,306.8 660.6,307.6 661.6,306.4 662.6,304.1 663.6,305.5 664.6,306.0 665.6,304.7 666.6,301.8 667.6,299.4 668.6,302.7 669.6,303.3 670.6,302.2 671.6,301.7 672.6,300.9 673.6,303.3 674.6,302.3 675.6,303.3 676.6,301.9 677.6,303.3 678.6,305.5 679.6,304.0 680.6,303.4 681.6,305.1 682.6,307.8 683.6,305.8 684.6,308.1 685.6,305.7 686.6,306.5 687.6,305.5 688.6,308.2 689.6,313.1 690.6,311.3 691.6,312.3 692.6,312.5 693.6,311.4 694.6,311.5 695.6,312.7 696.6,314.4 697.6,314.6 698.6,315.3 699.6,315.0 700.6,313.6 701.6,315.0 702.6,314.1 703.6,317.7 704.6,310.8 705.6,313.4 706.6,317.4 707.6,311.2 708.6,307.8 709.6,307.6 710.6,307.7 711.6,302.6 712.6,301.9 713.6,298.7 714.6,295.6 715.6,303.5 716.6,299.1 717.6,299.5 718.6,297.0 719.6,294.2 720.6,294.9 721.6,296.2 722.6,295.6 723.6,293.2 724.6,297.5 725.6,296.4 726.6,296.9 727.6,295.2 728.6,297.4 729.6,297.5 730.6,299.1 731.6,296.8 732.6,300.0 733.6,301.2 734.6,300.2 735.6,302.5 736.6,303.4 737.6,308.1 738.6,302.1 739.6,306.8 740.6,304.8 741.6,307.6 742.6,311.5 743.6,311.2 744.6,315.1 745.6,315.7 746.6,325.2 747.6,322.1 748.6,320.8 749.6,314.4 750.6,313.2 751.6,315.7 752.6,311.7 753.6,309.9 754.6,305.6 755.6,297.1 756.6,296.4 757.6,290.8 758.6,289.7 759.6,287.7 760.6,290.1 761.6,288.0 762.6,293.6 763.6,296.5 764.6,298.6 765.6,297.0 766.6,294.2 767.6,288.0 768.6,295.7 769.6,294.6 770.6,296.3 771.6,297.1 772.6,296.6 773.6,299.7 774.6,303.4 775.6,306.1 776.6,303.4 777.6,304.1 778.6,309.4 779.6,305.7 780.6,312.1 781.6,308.8 782.6,306.5 783.6,309.4 784.6,310.2 785.6,303.6 786.6,309.4 787.6,306.5 788.6,310.5 789.6,307.5 790.6,305.8 791.6,311.0 792.6,313.0 793.6,316.5 794.6,315.8 795.6,310.8 796.6,306.0 797.6,305.0 798.6,306.9 799.6,307.2 800.6,309.7 801.6,306.8 802.6,309.9 803.6,307.5 804.6,310.4 805.6,305.1 806.6,301.1 807.6,301.5 808.6,296.5 809.6,296.1 810.6,296.9 811.6,307.6 812.6,309.7 813.6,303.9 814.6,303.5 815.6,303.0 816.6,300.6 817.6,300.4 818.6,298.1 819.6,298.5 820.6,300.7 821.6,303.2 822.6,300.8 823.6,301.1 824.6,304.2 825.6,299.1 826.6,301.7 827.6,298.9 828.6,300.0 829.6,302.4 830.6,301.2 831.6,302.2 832.6,299.8 833.6,301.2 834.6,304.8 835.6,307.5 836.6,308.2 837.6,311.4 838.6,309.5 839.6,311.3 840.6,314.7" stroke="#ff0000"/>
<polyline points="98.6,308.1 99.6,308.1 100.6,307.3 101.6,308.9 102.6,307.2 103.6,308.5 104.6,307.0 105.6,309.0 106.6,307.3 107.6,308.8 108.6,306.8 109.6,307.4 110.6,308.4 111.6,306.5 112.6,306.1 113.6,304.2 114.6,301.4 115.6,302.1 116.6,301.0 117.6,299.7 118.6,300.9 119.6,299.7 120.6,299.5 121.6,300.2 122.6,299.4 123.6,301.4 124.6,297.9 125.6,299.4 126.6,299.2 127.6,296.4 128.6,296.7 129.6,298.9 130.6,298.3 131.6,299.3 132.6,300.3 133.6,299.4 134.6,299.1 135.6,298.1 136.6,300.7 137.6,299.8 138.6,300.6 139.6,300.4 140.6,298.9 141.6,301.2 142.6,300.5 143.6,300.5 144.6,299.1 145.6,299.9 146.6,300.0 147.6,300.3 148.6,300.0 149.6,301.4 150.6,301.5 151.6,302.3 152.6,302.3 153.6,304.5 154.6,304.3 155.6,302.7 156.6,305.1 157.6,306.4 158.6,307.9 159.6,307.6 160.6,307.9 161.6,307.6 162.6,308.6 163.6,307.7 164.6,307.6 165.6,307.5 166.6,307.5 167.6,305.7 168.6,303.8 169.6,304.6 170.6,302.5 171.6,302.8 172.6,303.3 173.6,304.5 174.6,304.9 175.6,304.1 176.6,302.9 177.6,299.7 178.6,299.7 179.6,297.1 180.6,297.9 181.6,296.6 182.6,295.4 183.6,298.3 184.6,297.2 185.6,297.4 186.6,297.4 187.6,298.0 188.6,298.0 189.6,296.4 190.6,298.6 191.6,297.4 192.6,298.1 193.6,300.6 194.6,300.7 195.6,300.5 196.6,300.0 197.6,302.4 198.6,303.5 199.6,303.8 200.6,303.6 201.6,305.0 202.6,305.6 203.6,307.8 204.6,309.3 205.6,310.4 206.6,309.7 207.6,310.0 208.6,309.7 209.6,308.4 210.6,308.2 211.6,309.6 212.6,307.8 213.6,308.0 214.6,306.6 215.6,306.7 216.6,304.9 217.6,306.0 218.6,306.5 219.6,306.7 220.6,305.5 221.6,304.5 222.6,303.5 223.6,302.5 224.6,302.3 225.6,302.2 226.6,300.4 227.6,301.0 228.6,298.7 229.6,297.5 230.6,298.0 231.6,297.3 232.6,297.4 233.6,299.2 234.6,298.0 235.6,298.2 236.6,298.9 237.6,299.2 238.6,298.0 239.6,299.6 240.6,299.1 241.6,298.9 242.6,299.9 243.6,299.3 244.6,300.6 245.6,302.0 246.6,303.4 247.6,303.5 248.6,304.5 249.6,306.5 250.6,307.9 251.6,308.5 252.6,310.0 253.6,309.7 254.6,309.5 255.6,309.2 256.6,307.8 257.6,306.7 258.6,307.6 259.6,305.3 260.6,304.0 261.6,304.4 262.6,304.8 263.6,302.6 264.6,302.8 265.6,300.8 266.6,300.0 267.6,299.2 268.6,299.0 269.6,299.9 270.6,296.9 271.6,298.5 272.6,295.7 273.6,295.7 274.6,295.9 275.6,295.4 276.6,294.8 277.6,293.1 278.6,294.4 279.6,293.1 280.6,297.8 281.6,297.5 282.6,299.7 283.6,300.5 284.6,302.3 285.6,302.1 286.6,304.4 287.6,303.9 288.6,305.1 289.6,304.6 290.6,305.3 291.6,307.2 292.6,305.9 293.6,305.8 294.6,308.1 295.6,307.3 296.6,308.4 297.6,310.0 298.6,309.2 299.6,311.0 300.6,310.3 301.6,312.5 302.6,311.8 303.6,308.6 304.6,307.1 305.6,304.8 306.6,303.9 307.6,304.2 308.6,301.7 309.6,303.2 310.6,301.1 311.6,301.0 312.6,299.9 313.6,302.7 314.6,300.6 315.6,300.4 316.6,299.3 317.6,300.3 318.6,297.3 319.6,298.6 320.6,299.9 321.6,297.4 322.6,297.4 323.6,297.5 324.6,296.0 325.6,296.3 326.6,297.2 327.6,297.1 328.6,297.8 329.6,297.8 330.6,299.0 331.6,299.3 332.6,301.0 333.6,301.2 334.6,301.2 335.6,300.2 336.6,303.6 337.6,304.4 338.6,303.9 339.6,303.5 340.6,304.6 341.6,306.6 342.6,305.4 343.6,306.3 344.6,307.2 345.6,308.4 346.6,307.7 347.6,308.0 348.6,308.0 349.6,310.0 350.6,309.9 351.6,309.0 352.6,307.3 353.6,307.1 354.6,307.4 355.6,305.7 356.6,306.3 357.6,305.0 358.6,304.1 359.6,303.4 360.6,302.4 361.6,300.4 362.6,299.9 363.6,301.1 364.6,297.4 365.6,297.2 366.6,297.6 367.6,295.8 368.6,294.4 369.6,293.2 370.6,293.8 371.6,295.0 372.6,296.3 373.6,296.2 374.6,298.0 375.6,297.4 376.6,299.2 377.6,299.1 378.6,300.4 379.6,301.4 380.6,302.3 381.6,301.2 382.6,303.6 383.6,302.8 384.6,302.8 385.6,303.5 386.6,302.4 387.6,303.6 388.6,303.8 389.6,303.4 390.6,304.0 391.6,303.0 392.6,302.7 393.6,300.9 394.6,301.5 395.6,300.3 396.6,300.0 397.6,299.7 398.6,299.6 399.6,298.0 400.6,297.9 401.6,298.7 402.6,299.2 403.6,298.9 404.6,299.1 405.6,299.3 406.6,298.4 407.6,297.8 408.6,296.8 409.6,296.7 410.6,297.1 411.6,298.4 412.6,299.0 413.6,299.5 414.6,300.1 415.6,301.5 416.6,301.9 417.6,302.8 418.6,303.7 419.6,303.9 420.6,304.4 421.6,306.0 422.6,306.3 423.6,306.2 424.6,306.4 425.6,308.6 426.6,305.4 427.6,305.1 428.6,304.8 429.6,302.9 430.6,303.5 431.6,304.6 432.6,303.7 433.6,303.2 434.6,302.9 435.6,302.3 436.6,302.7 437.6,301.8 438.6,301.7 439.6,302.2 440.6,302.9 441.6,302.5 442.6,302.9 443.6,300.8 444.6,303.4 445.6,304.3 446.6,303.5 447.6,302.1 448.6,301.7 449.6,302.5 450.6,301.1 451.6,302.0 452.6,300.6 453.6,301.4 454.6,301.3 455.6,298.2 456.6,299.9 457.6,299.3 458.6,298.9 459.6,299.7 460.6,300.1 461.6,301.3 462.6,299.4 463.6,301.2 464.6,301.5 465.6,299.9 466.6,299.3 467.6,298.4 468.6,297.0 469.6,297.8 470.6,297.2 471.6,297.2 472.6,298.6 473.6,297.0 474.6,296.7 475.6,297.5 476.6,295.0 477.6,295.5 478.6,296.6 479.6,296.7 480.6,298.2 481.6,297.8 482.6,299.9 483.6,300.0 484.6,299.7 485.6,299.1 486.6,300.3 487.6,300.7 488.6,299.6 489.6,301.0 490.6,301.6 491.6,301.6 492.6,303.0 493.6,303.0 494.6,301.7 495.6,302.5 496.6,301.7 497.6,302.9 498.6,301.7 499.6,303.1 500.6,302.7 501.6,303.2 502.6,302.3 503.6,300.4 504.6,302.1 505.6,299.7 506.6,300.0 507.6,298.4 508.6,297.6 509.6,297.4 510.6,295.1 511.6,294.9 512.6,291.5 513.6,292.2 514.6,291.1 515.6,291.8 516.6,292.5 517.6,293.3 518.6,295.0 519.6,292.7 520.6,295.3 521.6,295.8 522.6,298.5 523.6,298.3 524.6,299.8 525.6,299.9 526.6,301.6 527.6,302.7 528.6,302.4 529.6,303.2 530.6,302.2 531.6,303.7 532.6,304.4 533.6,303.4 534.6,305.0 535.6,302.9 536.6,303.6 537.6,304.5 538.6,305.7 539.6,306.6 540.6,306.9 541.6,306.5 542.6,306.7 543.6,305.3 544.6,304.3 545.6,303.9 546.6,306.1 547.6,301.9 548.6,303.1 549.6,303.8 550.6,302.5 551.6,300.8 552.6,300.9 553.6,301.2 554.6,301.1 555.6,299.0 556.6,300.0 557.6,299.2 558.6,299.5 559.6,299.3 560.6,297.6 561.6,296.3 562.6,298.1 563.6,300.2 564.6,300.3 565.6,300.9 566.6,303.7 567.6,301.9 568.6,304.4 569.6,303.3 570.6,303.1 571.6,302.5 572.6,303.0 573.6,300.4 574.6,300.0 575.6,298.5 576.6,300.0 577.6,299.2 578.6,299.9 579.6,298.7 580.6,299.3 581.6,300.4 582.6,299.5 583.6,301.6 584.6,303.3 585.6,304.3 586.6,305.1 587.6,308.0 588.6,307.7 589.6,308.7 590.6,306.7 591.6,307.4 592.6,306.2 593.6,306.5 594.6,307.3 595.6,306.2 596.6,304.9 597.6,304.3 598.6,304.0 599.6,302.2 600.6,301.7 601.6,300.5 602.6,297.7 603.6,298.1 604.6,298.6 605.6,296.3 606.6,295.6 607.6,294.3 608.6,293.5 609.6,293.9 610.6,293.1 611.6,293.5 612.6,292.7 613.6,295.7 614.6,295.5 615.6,296.5 616.6,299.5 617.6,300.2 618.6,298.9 619.6,301.8 620.6,302.3 621.6,302.0 622.6,303.9 623.6,302.8 624.6,302.6 625.6,302.0 626.6,301.7 627.6,302.8 628.6,300.6 629.6,300.2 630.6,299.9 631.6,300.3 632.6,299.4 633.6,301.3 634.6,301.1 635.6,301.8 636.6,303.5 637.6,305.0 638.6,305.0 639.6,305.3 640.6,305.9 641.6,303.3 642.6,303.1 643.6,303.5 644.6,301.2 645.6,300.5 646.6,299.8 647.6,300.5 648.6,300.1 649.6,299.0 650.6,298.7 651.6,299.2 652.6,298.5 653.6,296.4 654.6,297.3 655.6,297.2 656.6,297.4 657.6,296.5 658.6,295.9 659.6,295.8 660.6,294.7 661.6,296.3 662.6,295.9 663.6,296.9 664.6,295.8 665.6,296.4 666.6,296.1 667.6,296.2 668.6,297.7 669.6,297.1 670.6,298.5 671.6,298.0 672.6,299.7 673.6,298.9 674.6,300.6 675.6,301.0 676.6,302.1 677.6,302.1 678.6,302.0 679.6,303.1 680.6,302.8 681.6,303.3 682.6,304.6 683.6,305.4 684.6,306.7 685.6,307.6 686.6,306.8 687.6,307.1 688.6,307.4 689.6,306.9 690.6,305.6 691.6,304.8 692.6,305.8 693.6,305.8 694.6,306.7 695.6,305.6 696.6,305.5 697.6,305.3 698.6,303.3 699.6,302.5 700.6,303.2 701.6,302.3 702.6,300.8 703.6,299.8 704.6,298.3 705.6,299.9 706.6,299.8 707.6,300.3 708.6,300.1 709.6,300.3 710.6,299.5 711.6,299.3 712.6,299.6 713.6,298.2 714.6,297.8 715.6,299.6 716.6,300.4 717.6,302.3 718.6,303.9 719.6,303.6 720.6,302.6 721.6,303.1 722.6,302.0 723.6,301.3 724.6,301.8 725.6,303.0 726.6,305.6 727.6,304.2 728.6,307.0 729.6,308.1 730.6,307.9 731.6,309.0 732.6,309.5 733.6,309.8 734.6,309.3 735.6,307.8 736.6,307.6 737.6,306.8 738.6,305.1 739.6,304.1 740.6,302.7 741.6,302.0 742.6,299.9 743.6,300.1 744.6,299.0 745.6,297.1 746.6,298.6 747.6,295.1 748.6,294.5 749.6,294.8 750.6,292.4 751.6,292.7 752.6,291.6 753.6,291.4 754.6,291.5 755.6,292.5 756.6,293.8 757.6,294.3 758.6,295.4 759.6,296.0 760.6,297.0 761.6,300.1 762.6,300.7 763.6,302.5 764.6,305.1 765.6,304.9 766.6,304.9 767.6,305.8 768.6,306.3 769.6,305.0 770.6,306.4 771.6,305.9 772.6,307.4 773.6,307.1 774.6,309.1 775.6,308.8 776.6,308.0 777.6,309.0 778.6,308.4 779.6,309.7 780.6,308.1 781.6,305.9 782.6,302.2 783.6,301.5 784.6,300.2 785.6,298.9 786.6,299.4 787.6,297.2 788.6,298.5 789.6,297.4 790.6,297.3 791.6,296.7 792.6,296.1 793.6,295.1 794.6,297.5 795.6,298.2 796.6,299.8 797.6,303.2 798.6,302.9 799.6,301.1 800.6,301.3 801.6,301.5 802.6,302.5 803.6,301.9 804.6,301.5 805.6,299.2 806.6,300.7 807.6,301.5 808.6,301.8 809.6,302.3 810.6,302.1 811.6,303.3 812.6,302.6 813.6,300.9 814.6,299.7 815.6,301.6 816.6,299.2 817.6,300.4 818.6,300.9 819.6,298.5 820.6,299.3 821.6,298.7 822.6,299.3 823.6,299.2 824.6,302.1 825.6,302.6 826.6,303.7 827.6,306.2 828.6,305.8 829.6,305.8 830.6,307.8 831.6,305.4 832.6,305.7 833.6,306.1 834.6,305.3 835.6,304.6 836.6,307.3 837.6,305.9 838.6,306.2 839.6,306.5 840.6,306.1" stroke="#008000"/>
<polyline points="98.6,298.6 99.6,299.9 100.6,302.5 101.6,301.6 102.6,302.2 103.6,300.8 104.6,302.6 105.6,302.1 106.6,304.4 107.6,304.0 108.6,305.0 109.6,306.5 110.6,307.7 111.6,308.5 112.6,309.9 113.6,306.9 114.6,305.7 115.6,305.5 116.6,304.9 117.6,305.5 118.6,305.9 119.6,304.9 120.6,304.5 121.6,304.0 122.6,304.3 123.6,301.5 124.6,303.1 125.6,301.5 126.6,301.4 127.6,302.8 128.6,302.6 129.6,303.7 130.6,304.4 131.6,301.4 132.6,303.3 133.6,305.1 134.6,304.0 135.6,304.4 136.6,303.1 137.6,302.0 138.6,302.7 139.6,304.9 140.6,305.6 141.6,304.6 142.6,305.6 143.6,305.8 144.6,303.7 145.6,304.6 146.6,306.1 147.6,306.3 148.6,303.9 149.6,305.5 150.6,303.1 151.6,302.7 152.6,301.2 153.6,303.9 154.6,303.0 155.6,306.4 156.6,305.4 157.6,306.2 158.6,305.2 159.6,309.1 160.6,308.2 161.6,309.3 162.6,308.3 163.6,310.8 164.6,310.4 165.6,308.5 166.6,308.7 167.6,308.5 168.6,308.0 169.6,305.8 170.6,305.9 171.6,302.7 172.6,301.1 173.6,300.5 174.6,297.8 175.6,298.5 176.6,299.4 177.6,297.9 178.6,296.9 179.6,298.6 180.6,297.2 181.6,299.4 182.6,300.8 183.6,301.7 184.6,300.7 185.6,302.4 186.6,303.5 187.6,301.6 188.6,302.8 189.6,300.9 190.6,300.0 191.6,301.6 192.6,300.5 193.6,300.0 194.6,298.7 195.6,298.4 196.6,298.9 197.6,299.2 198.6,296.9 199.6,295.1 200.6,297.3 201.6,297.9 202.6,299.3 203.6,300.3 204.6,303.6 205.6,303.0 206.6,304.6 207.6,302.9 208.6,304.4 209.6,304.7 210.6,305.7 211.6,305.8 212.6,304.3 213.6,305.9 214.6,302.8 215.6,302.8 216.6,302.8 217.6,300.9 218.6,301.9 219.6,301.4 220.6,299.9 221.6,301.3 222.6,299.0 223.6,298.6 224.6,297.1 225.6,296.1 226.6,296.7 227.6,296.6 228.6,296.4 229.6,297.8 230.6,295.2 231.6,296.7 232.6,296.3 233.6,299.5 234.6,297.9 235.6,298.0 236.6,297.6 237.6,299.5 238.6,298.4 239.6,299.1 240.6,297.1 241.6,300.7 242.6,300.7 243.6,301.6 244.6,303.0 245.6,302.2 246.6,302.1 247.6,302.8 248.6,302.5 249.6,301.8 250.6,301.9 251.6,301.9 252.6,303.9 253.6,305.0 254.6,305.1 255.6,307.7 256.6,305.5 257.6,307.6 258.6,308.8 259.6,305.7 260.6,303.4 261.6,305.3 262.6,304.3 263.6,302.6 264.6,304.2 265.6,302.4 266.6,302.0 267.6,302.9 268.6,302.3 269.6,301.2 270.6,301.4 271.6,300.3 272.6,300.8 273.6,302.4 274.6,305.0 275.6,305.8 276.6,306.9 277.6,308.8 278.6,311.1 279.6,311.3 280.6,309.2 281.6,306.5 282.6,306.5 283.6,303.2 284.6,304.1 285.6,302.1 286.6,302.4 287.6,301.5 288.6,299.9 289.6,299.7 290.6,297.7 291.6,298.1 292.6,298.8 293.6,301.2 294.6,297.9 295.6,297.0 296.6,296.1 297.6,299.5 298.6,298.6 299.6,301.0 300.6,303.6 301.6,303.8 302.6,307.8 303.6,308.4 304.6,306.4 305.6,305.9 306.6,304.7 307.6,304.1 308.6,305.2 309.6,304.9 310.6,304.1 311.6,303.6 312.6,302.3 313.6,302.7 314.6,300.5 315.6,301.4 316.6,302.2 317.6,301.6 318.6,299.5 319.6,299.4 320.6,301.6 321.6,302.6 322.6,300.2 323.6,301.8 324.6,303.5 325.6,305.7 326.6,305.2 327.6,307.8 328.6,308.3 329.6,312.0 330.6,309.3 331.6,307.9 332.6,306.8 333.6,307.2 334.6,305.9 335.6,303.4 336.6,303.7 337.6,301.4 338.6,301.1 339.6,299.8 340.6,299.6 341.6,300.3 342.6,300.1 343.6,301.6 344.6,302.2 345.6,302.2 346.6,302.4 347.6,305.2 348.6,303.6 349.6,304.6 350.6,307.9 351.6,308.7 352.6,309.9 353.6,309.7 354.6,307.7 355.6,307.4 356.6,307.3 357.6,305.1 358.6,304.1 359.6,302.2 360.6,300.4 361.6,300.2 362.6,297.9 363.6,295.3 364.6,294.4 365.6,293.9 366.6,293.9 367.6,293.9 368.6,296.7 369.6,296.7 370.6,299.4 371.6,302.8 372.6,304.4 373.6,303.4 374.6,304.7 375.6,307.0 376.6,306.3 377.6,304.8 378.6,304.4 379.6,302.8 380.6,302.2 381.6,301.2 382.6,299.7 383.6,299.8 384.6,299.5 385.6,298.1 386.6,298.1 387.6,300.2 388.6,298.3 389.6,301.0 390.6,300.8 391.6,300.8 392.6,302.0 393.6,302.4 394.6,303.6 395.6,302.6 396.6,303.3 397.6,304.1 398.6,306.9 399.6,306.9 400.6,306.1 401.6,307.1 402.6,306.1 403.6,306.2 404.6,305.7 405.6,307.0 406.6,302.7 407.6,305.2 408.6,305.1 409.6,304.5 410.6,305.4 411.6,305.5 412.6,306.4 413.6,307.7 414.6,306.0 415.6,309.0 416.6,308.0 417.6,310.2 418.6,309.7 419.6,311.0 420.6,307.8 421.6,305.7 422.6,302.2 423.6,298.8 424.6,300.2 425.6,300.2 426.6,301.5 427.6,297.8 428.6,300.3 429.6,302.3 430.6,301.1 431.6,302.9 432.6,305.6 433.6,305.2 434.6,303.4 435.6,305.7 436.6,305.7 437.6,305.6 438.6,305.5 439.6,305.5 440.6,304.6 441.6,305.0 442.6,306.2 443.6,305.8 444.6,307.4 445.6,305.5 446.6,303.3 447.6,304.7 448.6,304.7 449.6,304.3 450.6,303.5 451.6,302.2 452.6,303.8 453.6,301.6 454.6,302.5 455.6,301.4 456.6,300.3 457.6,302.4 458.6,298.7 459.6,299.9 460.6,301.8 461.6,301.9 462.6,303.6 463.6,303.6 464.6,302.6 465.6,302.9 466.6,298.6 467.6,296.5 468.6,298.0 469.6,300.6 470.6,304.1 471.6,306.3 472.6,307.1 473.6,306.7 474.6,308.2 475.6,306.3 476.6,307.8 477.6,308.1 478.6,307.8 479.6,308.3 480.6,306.7 481.6,305.6 482.6,307.1 483.6,305.2 484.6,304.8 485.6,303.7 486.6,304.7 487.6,304.6 488.6,305.1 489.6,306.3 490.6,304.0 491.6,304.6 492.6,304.4 493.6,301.4 494.6,303.4 495.6,304.3 496.6,304.5 497.6,303.0 498.6,304.1 499.6,303.9 500.6,301.8 501.6,302.6 502.6,302.0 503.6,299.9 504.6,297.7 505.6,299.0 506.6,296.6 507.6,295.6 508.6,295.6 509.6,294.5 510.6,295.5 511.6,294.7 512.6,297.0 513.6,299.4 514.6,301.0 515.6,304.5 516.6,307.9 517.6,307.2 518.6,310.7 519.6,308.4 520.6,308.6 521.6,309.7 522.6,308.4 523.6,306.7 524.6,305.5 525.6,305.1 526.6,304.3 527.6,303.0 528.6,300.8 529.6,300.3 530.6,299.5 531.6,298.6 532.6,295.1 533.6,297.1 534.6,297.2 535.6,297.7 536.6,298.1 537.6,299.2 538.6,299.6 539.6,299.6 540.6,300.4 541.6,302.7 542.6,301.3 543.6,301.3 544.6,301.4 545.6,299.3 546.6,296.2 547.6,297.9 548.6,298.3 549.6,299.5 550.6,301.5 551.6,302.0 552.6,302.4 553.6,303.6 554.6,302.8 555.6,302.1 556.6,301.9 557.6,301.5 558.6,301.3 559.6,301.6 560.6,302.3 561.6,301.8 562.6,301.9 563.6,304.5 564.6,303.2 565.6,302.6 566.6,301.7 567.6,301.0 568.6,300.2 569.6,299.5 570.6,298.5 571.6,300.5 572.6,299.4 573.6,301.4 574.6,299.2 575.6,300.4 576.6,302.6 577.6,301.7 578.6,301.2 579.6,302.0 580.6,300.6 581.6,301.6 582.6,299.4 583.6,300.9 584.6,301.0 585.6,302.4 586.6,303.0 587.6,302.1 588.6,305.1 589.6,304.0 590.6,303.5 591.6,304.0 592.6,308.3 593.6,305.9 594.6,304.3 595.6,303.0 596.6,301.6 597.6,302.6 598.6,300.2 599.6,300.8 600.6,297.8 601.6,295.0 602.6,296.9 603.6,294.9 604.6,294.1 605.6,294.8 606.6,292.8 607.6,296.0 608.6,296.8 609.6,298.0 610.6,301.0 611.6,301.7 612.6,305.0 613.6,306.3 614.6,307.1 615.6,309.2 616.6,308.4 617.6,306.8 618.6,307.1 619.6,305.3 620.6,305.2 621.6,303.0 622.6,303.0 623.6,302.4 624.6,300.4 625.6,299.9 626.6,298.9 627.6,300.4 628.6,300.3 629.6,302.5 630.6,304.7 631.6,304.9 632.6,304.3 633.6,305.5 634.6,305.7 635.6,303.9 636.6,304.5 637.6,303.5 638.6,302.6 639.6,300.8 640.6,299.5 641.6,298.6 642.6,297.8 643.6,297.9 644.6,298.1 645.6,297.7 646.6,298.2 647.6,298.8 648.6,294.4 649.6,292.7 650.6,290.2 651.6,290.8 652.6,292.4 653.6,294.2 654.6,295.4 655.6,298.5 656.6,299.3 657.6,298.6 658.6,301.2 659.6,301.3 660.6,304.9 661.6,303.4 662.6,302.5 663.6,301.9 664.6,300.7 665.6,299.9 666.6,302.9 667.6,304.4 668.6,307.6 669.6,309.1 670.6,305.1 671.6,305.4 672.6,302.4 673.6,300.5 674.6,298.4 675.6,300.0 676.6,299.8 677.6,299.1 678.6,301.8 679.6,300.4 680.6,299.9 681.6,300.8 682.6,302.0 683.6,302.7 684.6,302.7 685.6,303.3 686.6,303.3 687.6,300.5 688.6,300.9 689.6,300.2 690.6,300.8 691.6,301.5 692.6,300.2 693.6,298.0 694.6,298.1 695.6,298.7 696.6,296.7 697.6,296.5 698.6,296.3 699.6,293.8 700.6,295.5 701.6,294.5 702.6,294.7 703.6,293.8 704.6,294.4 705.6,295.1 706.6,296.3 707.6,296.6 708.6,298.0 709.6,301.2 710.6,302.4 711.6,302.0 712.6,302.6 713.6,305.4 714.6,304.2 715.6,306.3 716.6,307.1 717.6,304.6 718.6,303.5 719.6,302.5 720.6,300.5 721.6,300.3 722.6,300.7 723.6,301.7 724.6,300.5 725.6,300.6 726.6,300.5 727.6,300.2 728.6,303.3 729.6,300.4 730.6,302.4 731.6,304.0 732.6,303.1 733.6,305.9 734.6,307.4 735.6,306.5 736.6,308.0 737.6,305.4 738.6,305.5 739.6,303.7 740.6,302.4 741.6,302.0 742.6,299.8 743.6,299.1 744.6,297.0 745.6,293.9 746.6,293.7 747.6,294.0 748.6,292.5 749.6,295.2 750.6,294.3 751.6,295.9 752.6,298.5 753.6,303.1 754.6,304.7 755.6,305.5 756.6,307.3 757.6,306.7 758.6,309.5 759.6,305.3 760.6,302.4 761.6,301.5 762.6,299.6 763.6,299.7 764.6,297.4 765.6,297.5 766.6,295.4 767.6,297.3 768.6,294.8 769.6,295.1 770.6,292.8 771.6,294.8 772.6,293.7 773.6,295.5 774.6,296.0 775.6,294.4 776.6,295.7 777.6,296.9 778.6,297.8 779.6,299.8 780.6,300.5 781.6,298.6 782.6,298.5 783.6,297.4 784.6,294.2 785.6,293.4 786.6,293.2 787.6,292.8 788.6,292.1 789.6,293.3 790.6,293.1 791.6,292.7 792.6,291.7 793.6,293.5 794.6,293.3 795.6,292.0 796.6,292.9 797.6,294.8 798.6,293.7 799.6,295.4 800.6,295.0 801.6,294.2 802.6,294.4 803.6,293.1 804.6,293.8 805.6,292.2 806.6,295.4 807.6,294.2 808.6,293.3 809.6,291.9 810.6,293.4 811.6,294.9 812.6,295.9 813.6,296.7 814.6,294.2 815.6,294.7 816.6,293.0 817.6,291.7 818.6,291.8 819.6,294.0 820.6,295.4 821.6,294.0 822.6,297.6 823.6,296.5 824.6,294.1 825.6,293.2 826.6,292.8 827.6,293.5 828.6,292.8 829.6,292.6 830.6,294.4 831.6,292.7 832.6,295.2 833.6,296.1 834.6,295.4 835.6,295.8 836.6,295.5 837.6,295.8 838.6,295.2 839.6,294.4 840.6,294.9" stroke="#0000ff"/>
</g>
<g stroke="#000" stroke-width="1">
<line x1="247.5" y1="590" x2="247.5" y2="582"/>
<line x1="247.5" y1="14" x2="247.5" y2="22.5"/>
<line x1="396.5" y1="590" x2="396.5" y2="582"/>
<line x1="396.5" y1="14" x2="396.5" y2="22.5"/>
<line x1="545.5" y1="590" x2="545.5" y2="582"/>
<line x1="545.5" y1="14" x2="545.5" y2="22.5"/>
<line x1="694.5" y1="590" x2="694.5" y2="582"/>
<line x1="694.5" y1="14" x2="694.5" y2="22.5"/>
<line x1="98" y1="149.5" x2="107" y2="149.5"/>
<line x1="842" y1="149.5" x2="834" y2="149.5"/>
<line x1="98" y1="302.5" x2="107" y2="302.5"/>
<line x1="842" y1="302.5" x2="834" y2="302.5"/>
<line x1="98" y1="456.5" x2="107" y2="456.5"/>
<line x1="842" y1="456.5" x2="834" y2="456.5"/>
</g>
<rect x="98" y="14" width="744" height="576" fill="none" stroke="#000" stroke-width="2"/>
<g font-family="'Liberation Serif', serif" font-size="28.5" fill="#000">
<text x="98.2" y="613" text-anchor="middle">0.0</text>
<text x="247.0" y="613" text-anchor="middle">0.2</text>
<text x="395.8" y="613" text-anchor="middle">0.4</text>
<text x="544.6" y="613" text-anchor="middle">0.6</text>
<text x="693.4" y="613" text-anchor="middle">0.8</text>
<text x="842.2" y="613" text-anchor="middle">1.0</text>
<text x="95" y="156.8" text-anchor="end">0.5</text>
<text x="95" y="310.3" text-anchor="end">0.0</text>
<text x="95" y="462.8" text-anchor="end">0.5</text>
</g>
<rect x="44.3" y="452.7" width="15.9" height="1.4" fill="#000"/>
<text transform="translate(470.35,644) scale(0.958,1)" text-anchor="middle" font-family="'Liberation Serif', serif" font-size="19.5" fill="#000">time (day) since 2015/02/28</text>
<text transform="translate(27.8,304.35) rotate(-90) scale(0.967,1)" text-anchor="middle" font-family="'Liberation Serif', serif" font-size="19.5" fill="#000">Euler angle ADS-ISS (deg)</text>
</svg>
</body></html>
